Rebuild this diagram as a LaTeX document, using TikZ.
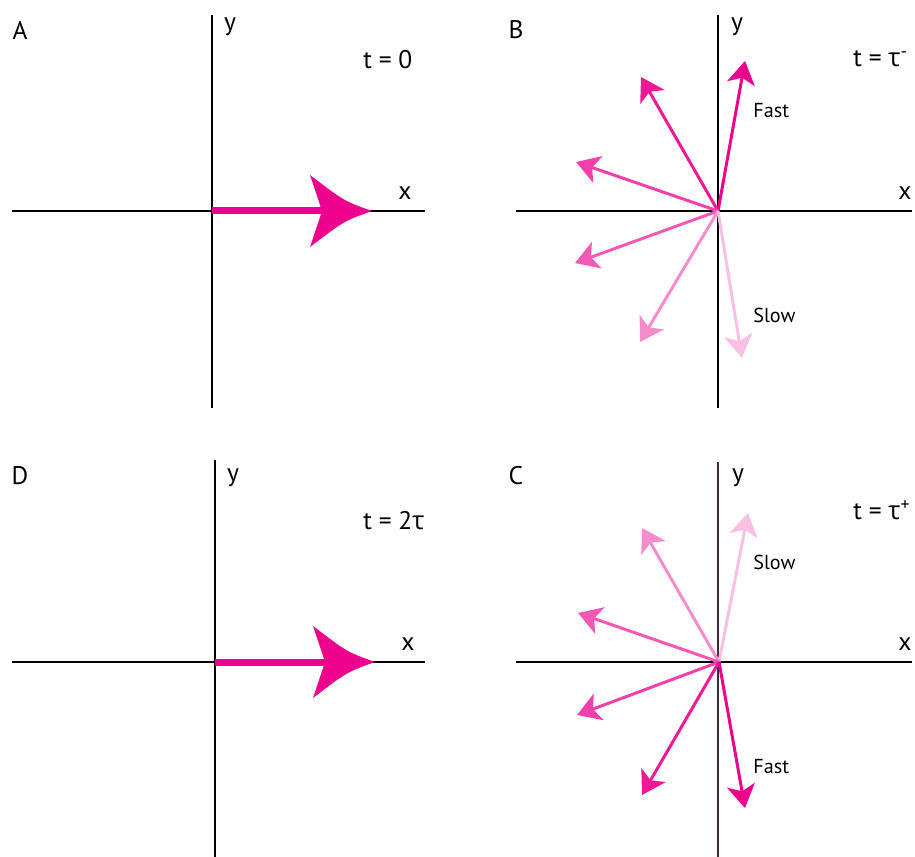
\documentclass[tikz,border=0pt]{standalone}
\usepackage{fontspec}
\setmainfont{PT Sans}
\newfontfamily\greekfont{Open Sans}
\usetikzlibrary{arrows.meta}
\tikzset{>={Stealth[length=0.46cm, width=0.56cm, inset=0.12cm]}}
\definecolor{vecpink}{HTML}{EC008C}
\definecolor{axisdark}{HTML}{3D2B3D}
\newcommand{\tausym}{{\greekfont τ}}

\begin{document}
\begin{tikzpicture}[x=0.02cm, y=-0.02cm,
      axis/.style = {line width=0.8pt},
      vec/.style = {->, line width=1.7pt},
      lbl/.style = {inner sep=0pt, font=\fontsize{14.5}{17}\selectfont},
      note/.style = {inner sep=0pt, anchor=west, font=\fontsize{11.5}{14}\selectfont}
    ]
    \useasboundingbox (0,0) rectangle (915,857);

    % origins of the four panels
    \coordinate (oA) at (212,211);
    \coordinate (oB) at (718,211);
    \coordinate (oC) at (719,662);
    \coordinate (oD) at (215,662);

    % axes
    \draw[axis] (12,211) -- (425,211);
    \draw[axis] (212,15) -- (212,408);
    \draw[axis] (516,211) -- (912,211);
    \draw[axis] (718,15) -- (718,408);
    \draw[axis] (12,662) -- (425,662);
    \draw[axis] (215,460) -- (215,857);
    \draw[axis] (516,662) -- (912,662);
    \draw[axis, axisdark] (718,462) -- (718,857);

    % panel labels
    \node[lbl] (labA) at (20,30) {A};
    \node[lbl] (labB) at (516,30) {B};
    \node[lbl] (labD) at (20,476) {D};
    \node[lbl] (labC) at (516,476) {C};

    \node[lbl] (yA) at (230,27) {y};
    \node[lbl] (yB) at (737,27) {y};
    \node[lbl] (yD) at (233,478) {y};
    \node[lbl] (yC) at (738,478) {y};

    \node[lbl] (xA) at (405,193) {x};
    \node[lbl] (xB) at (905,193) {x};
    \node[lbl] (xD) at (408,644) {x};
    \node[lbl] (xC) at (905,644) {x};

    \node[lbl, anchor=west] (tA) at (363,60) {t = 0};
    \node[lbl, anchor=west] (tB) at (853,59) {t = \tausym\textsuperscript{-}};
    \node[lbl, anchor=west] (tD) at (363,521) {t = 2\tausym};
    \node[lbl, anchor=west] (tC) at (853,510) {t = \tausym\textsuperscript{+}};

    % big vectors at t = 0 and t = 2tau
    \begin{scope}[shift={(oA)}]
      \draw[vecpink, line width=0.14cm] (0,0) -- (112,0);
      \fill[vecpink] (110,0) -- (98,-36) .. controls (132,-10) .. (160,0)
        .. controls (132,10) .. (98,36) -- cycle;
    \end{scope}
    \begin{scope}[shift={(oD)}]
      \draw[vecpink, line width=0.14cm] (0,0) -- (112,0);
      \fill[vecpink] (110,0) -- (98,-36) .. controls (132,-10) .. (160,0)
        .. controls (132,10) .. (98,36) -- cycle;
    \end{scope}

    % spins just before the pulse
    \coordinate (b1) at (745,61);
    \coordinate (b2) at (641,77);
    \coordinate (b3) at (576,162);
    \coordinate (b4) at (575,263);
    \coordinate (b5) at (640,342);
    \coordinate (b6) at (742,358);
    \draw[vec, vecpink] (oB) -- (b1);
    \draw[vec, vecpink!90!white] (oB) -- (b2);
    \draw[vec, vecpink!75!white] (oB) -- (b3);
    \draw[vec, vecpink!65!white] (oB) -- (b4);
    \draw[vec, vecpink!45!white] (oB) -- (b5);
    \draw[vec, vecpink!25!white] (oB) -- (b6);
    \node[note] (fastB) at (753,111) {Fast};
    \node[note] (slowB) at (753,315) {Slow};

    % spins just after the pulse
    \coordinate (c1) at (748,513);
    \coordinate (c2) at (642,528);
    \coordinate (c3) at (578,613);
    \coordinate (c4) at (577,715);
    \coordinate (c5) at (642,795);
    \coordinate (c6) at (745,808);
    \draw[vec, vecpink!25!white] (oC) -- (c1);
    \draw[vec, vecpink!45!white] (oC) -- (c2);
    \draw[vec, vecpink!65!white] (oC) -- (c3);
    \draw[vec, vecpink!75!white] (oC) -- (c4);
    \draw[vec, vecpink!90!white] (oC) -- (c5);
    \draw[vec, vecpink] (oC) -- (c6);
    \node[note] (slowC) at (753,562) {Slow};
    \node[note] (fastC) at (753,767) {Fast};

\end{tikzpicture}
\end{document}
